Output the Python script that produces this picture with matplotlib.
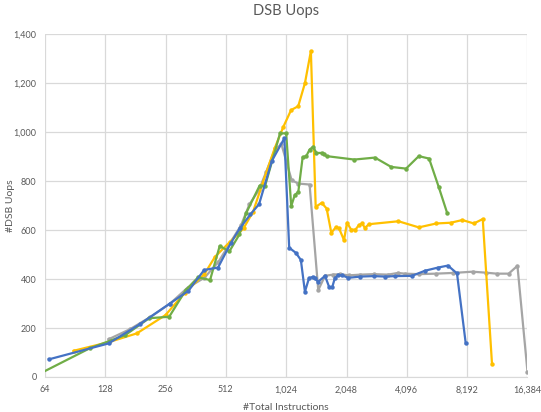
import numpy as np
import matplotlib
matplotlib.use("Agg")
import matplotlib.pyplot as plt
from matplotlib.ticker import FixedLocator, FuncFormatter, NullLocator

plt.rcParams['font.family'] = ['Lato', 'DejaVu Sans']

# values
blue_x = [67, 133, 190, 269, 333, 399, 468, 541, 602, 679, 750, 869, 1003,
          1060, 1144, 1212, 1270, 1330, 1390, 1420, 1480, 1600, 1680, 1740,
          1790, 1860, 1935, 2090, 2400, 2800, 3200, 3560, 4340, 5050, 5870,
          6570, 7290, 8060]
blue_y = [72, 137, 215, 300, 352, 437, 447, 546, 608, 664, 706, 883, 975,
          528, 507, 478, 348, 403, 409, 403, 389, 413, 366, 368,
          403, 416, 416, 405, 410, 412, 410, 412, 413, 434, 447,
          455, 423, 137]

orange_x = [89, 133, 184, 256, 320, 400, 452, 537, 627, 700, 780, 898, 989,
            1083, 1176, 1270, 1360, 1437, 1540, 1630, 1720, 1810, 1880, 1990,
            2060, 2160, 2270, 2360, 2450, 2530, 2650, 3720, 4700, 5750, 6790,
            7750, 8850, 9800, 10900]
orange_y = [107, 142, 178, 253, 345, 420, 491, 552, 607, 675, 790, 935, 1020,
            1090, 1106, 1200, 1331, 695, 711, 688, 589, 611, 607, 559,
            630, 602, 602, 620, 627, 609, 624, 636, 611, 627, 630,
            641, 627, 645, 53]

gray_x = [133, 170, 215, 270, 330, 400, 470, 540, 610, 671, 750, 814, 900,
          970, 1090, 1177, 1340, 1480, 1600, 1750, 1900, 2100, 2400, 2800,
          3300, 3700, 4000, 4700, 5700, 7000, 8720, 10170, 11500, 13200,
          14600, 16384]
gray_y = [154, 195, 245, 300, 365, 405, 470, 550, 620, 705, 765, 838, 930,
          950, 804, 790, 786, 355, 413, 418, 420, 415, 418, 420,
          418, 425, 422, 420, 422, 425, 430, 426, 422, 422,
          454, 22]

green_x = [56, 107, 161, 212, 267, 323, 372, 427, 477, 533, 598, 647, 755,
           803, 954, 1024, 1085, 1130, 1177, 1237, 1290, 1340, 1395, 1450,
           1540, 1580, 1630, 2240, 2840, 3420, 4060, 4700, 5290, 5920, 6520]
green_y = [0, 117, 171, 240, 246, 355, 407, 396, 535, 513, 582, 670, 782,
           780, 995, 995, 698, 743, 756, 897, 902, 929, 940, 915,
           915, 909, 902, 888, 896, 858, 851, 902, 892, 774, 668]

x_ticks = [64, 128, 256, 512, 1024, 2048, 4096, 8192, 16384]
y_ticks = [0, 200, 400, 600, 800, 1000, 1200, 1400]

series = [
    (gray_x, gray_y, '#A5A5A5'),
    (orange_x, orange_y, '#FFC000'),
    (green_x, green_y, '#70AD47'),
    (blue_x, blue_y, '#4472C4'),
]

fig = plt.figure(figsize=(5.41, 4.12), dpi=100)
ax = fig.add_axes([0.083, 0.085, 0.892, 0.832])

for xs, ys, c in series:
    ax.plot(xs, ys, color=c, lw=1.6, marker='o', ms=3.2, mew=0)

ax.set_xscale('log', base=2)
ax.set_xlim(64, 16384)
ax.set_ylim(0, 1400)
ax.xaxis.set_major_locator(FixedLocator(x_ticks))
ax.xaxis.set_minor_locator(NullLocator())
ax.yaxis.set_major_locator(FixedLocator(y_ticks))
fmt = FuncFormatter(lambda v, p: f"{int(round(v)):,}")
ax.xaxis.set_major_formatter(fmt)
ax.yaxis.set_major_formatter(fmt)

ax.grid(True, color='#D9D9D9', lw=0.9)
ax.set_axisbelow(True)
for s in ['top', 'right', 'left']:
    ax.spines[s].set_visible(False)
ax.spines['bottom'].set_color('#D9D9D9')
ax.tick_params(length=0, labelsize=6.5, labelcolor='#595959', pad=6)

ax.set_title('DSB Uops', fontsize=10.5, color='#595959', pad=14)
ax.set_xlabel('#Total Instructions', fontsize=7.5, color='#595959', labelpad=6)
fig.text(0.02, 0.5, '#DSB Uops', rotation=90, ha='center', va='center',
         fontsize=7.5, color='#595959')

fig.savefig('out.png', dpi=100)
